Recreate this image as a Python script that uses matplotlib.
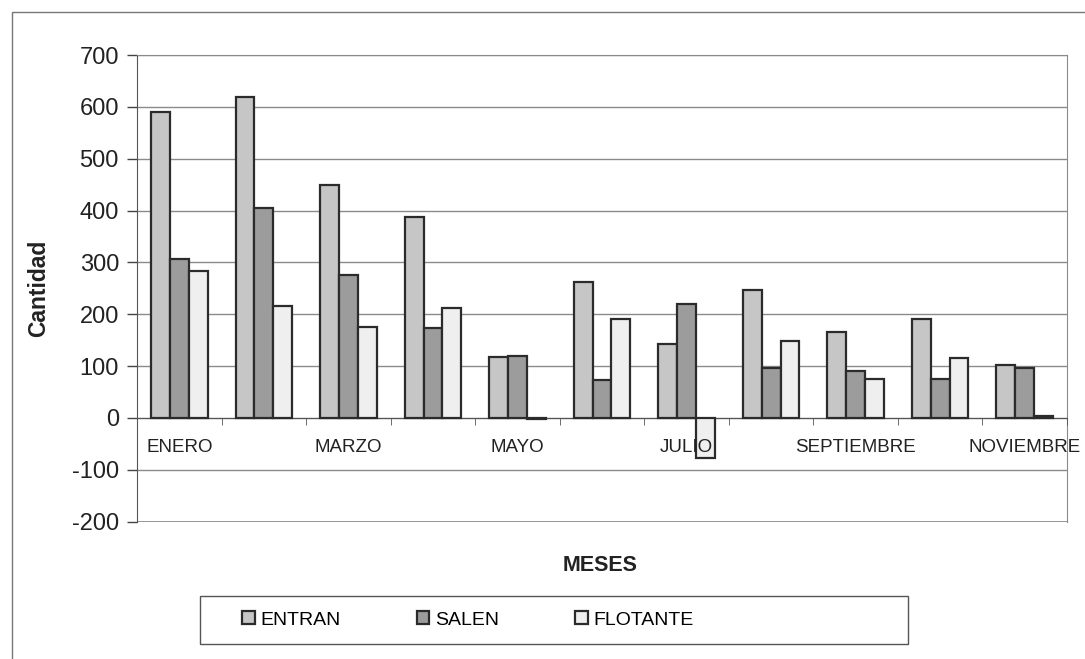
import numpy as np
import matplotlib
matplotlib.use('Agg')
import matplotlib.pyplot as plt
from matplotlib.patches import Rectangle, Patch

plt.rcParams['font.family'] = ['Liberation Sans', 'DejaVu Sans']
plt.rcParams['axes.unicode_minus'] = False

# datos
meses = ['ENERO', 'FEBRERO', 'MARZO', 'ABRIL', 'MAYO', 'JUNIO', 'JULIO',
         'AGOSTO', 'SEPTIEMBRE', 'OCTUBRE', 'NOVIEMBRE']
entran = [590, 620, 450, 388, 118, 263, 142, 246, 166, 191, 102]
salen = [307, 405, 275, 174, 120, 73, 219, 97, 90, 75, 97]
flotante = [283, 215, 175, 213, -2, 190, -78, 148, 76, 116, 4]
yticks = [-200, -100, 0, 100, 200, 300, 400, 500, 600, 700]

series = [('ENTRAN', entran, '#c6c6c6'),
          ('SALEN', salen, '#9c9c9c'),
          ('FLOTANTE', flotante, '#efefef')]

fig = plt.figure(figsize=(10.85, 6.59), dpi=100)
ax = fig.add_axes([0.1263, 0.2084, 0.8571, 0.7081])

x = np.arange(len(meses))
w = 0.223
for k, (nombre, vals, col) in enumerate(series):
    ax.bar(x + (k - 1) * w, vals, width=w, color=col, edgecolor='#2b2b2b',
           linewidth=1.6, label=nombre, zorder=3)

ax.set_xlim(-0.5, len(meses) - 0.5)
ax.set_ylim(-200, 700)
ax.set_yticks(yticks)
ax.tick_params(axis='y', labelsize=17, length=7, width=1, color='#444444',
               labelcolor='#222222', pad=6)
ax.yaxis.grid(True, color='#8a8a8a', linewidth=1)
ax.set_axisbelow(True)
ax.axhline(-200, color='#8a8a8a', linewidth=1.2, zorder=1)

# eje x cruzando en cero
ax.spines['bottom'].set_position(('data', 0))
ax.spines['bottom'].set_color('#555555')
ax.spines['left'].set_color('#555555')
ax.spines['top'].set_color('#8a8a8a')
ax.spines['right'].set_color('#8a8a8a')
ax.set_xticks(x)
ax.set_xticklabels([m if i % 2 == 0 else '' for i, m in enumerate(meses)])
ax.set_xticks(np.arange(len(meses) + 1) - 0.5, minor=True)
ax.tick_params(axis='x', which='major', length=0, labelsize=13.5,
               labelcolor='#222222', pad=15)
ax.tick_params(axis='x', which='minor', length=5, direction='out',
               color='#555555')
ax.xaxis.set_zorder(3.5)

ax.set_ylabel('Cantidad', fontsize=16.5, fontweight='bold', color='#222222',
              labelpad=16)
fig.text(0.553, 0.142, 'MESES', fontsize=15.5, fontweight='bold',
         color='#222222', ha='center', va='center')

# leyenda con marco propio
fig.patches.append(Rectangle((200 / 1085, 1 - 644 / 659), 708 / 1085, 48 / 659,
                             transform=fig.transFigure, fill=False,
                             edgecolor='#555555', linewidth=1))
handles = [Patch(facecolor=c, edgecolor='#2b2b2b', linewidth=1.6)
           for _, _, c in series]
fig.legend(handles, [s[0] for s in series], ncol=3, loc='center left',
           bbox_to_anchor=(242 / 1085, 1 - 620 / 659), fontsize=14,
           frameon=False, handlelength=0.65, handleheight=0.65,
           handletextpad=0.3, columnspacing=3.9, borderpad=0,
           borderaxespad=0)

# marco exterior
fig.patches.append(Rectangle((12 / 1085, -0.05), 1.1, 1 - 12 / 659 + 0.05,
                             transform=fig.transFigure, fill=False,
                             edgecolor='#777777', linewidth=1))

fig.savefig('out.png', dpi=100)
